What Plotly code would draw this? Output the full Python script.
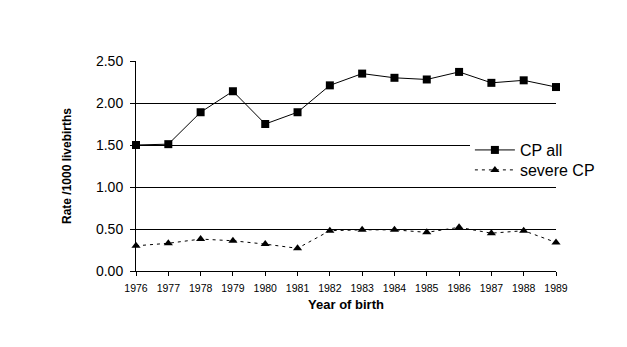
import plotly.graph_objects as go

years = list(range(1976, 1990))
cp_all = [1.50, 1.51, 1.89, 2.14, 1.75, 1.89, 2.21, 2.35, 2.30, 2.28, 2.37, 2.24, 2.27, 2.19]
severe_cp = [0.30, 0.33, 0.38, 0.36, 0.32, 0.27, 0.48, 0.49, 0.49, 0.46, 0.52, 0.45, 0.48, 0.34]
y_ticks = [0.0, 0.5, 1.0, 1.5, 2.0, 2.5]

FONT = "Liberation Sans, Arial, sans-serif"

fig = go.Figure()
fig.add_trace(go.Scatter(
    x=years, y=cp_all, name="CP all", mode="lines+markers",
    line=dict(color="black", width=1),
    marker=dict(symbol="square", size=8, color="black"),
    cliponaxis=False, legend="legend",
))
fig.add_trace(go.Scatter(
    x=years, y=severe_cp, name="severe CP", mode="lines+markers",
    line=dict(color="black", width=1, dash="3px,4px"),
    marker=dict(symbol="triangle-up", size=8, color="black"),
    cliponaxis=False, legend="legend2",
))

fig.update_layout(
    width=627, height=347,
    margin=dict(l=136, r=71, t=61, b=76),
    paper_bgcolor="white", plot_bgcolor="white",
    font=dict(family=FONT, color="black", size=11),
    showlegend=True,
    legend=dict(x=0.795, y=0.657, xanchor="left", yanchor="top",
                bgcolor="white", font=dict(size=16, family=FONT),
                itemwidth=40),
    legend2=dict(x=0.795, y=0.562, xanchor="left", yanchor="top",
                 bgcolor="rgba(0,0,0,0)", font=dict(size=16, family=FONT),
                 itemwidth=40),
    xaxis=dict(range=[1976, 1989], tickvals=years, ticktext=[str(y) for y in years],
               showgrid=False, zeroline=False, showline=True, linecolor="black", linewidth=1,
               ticks="outside", ticklen=4, tickcolor="black", ticklabelstandoff=3,
               tickfont=dict(size=10.5),
               title=dict(text="<b>Year of birth</b>", font=dict(size=13), standoff=7)),
    yaxis=dict(range=[0, 2.5], tickvals=y_ticks, ticktext=[f"{v:.2f}" for v in y_ticks],
               showgrid=True, gridcolor="black", gridwidth=1,
               zeroline=False, showline=True, linecolor="black", linewidth=1,
               ticks="outside", ticklen=5, tickcolor="black", ticklabelstandoff=4,
               tickfont=dict(size=14),
               title=dict(text="<b>Rate /1000 livebirths</b>", font=dict(size=12), standoff=21)),
)

fig.write_html("out.html")
